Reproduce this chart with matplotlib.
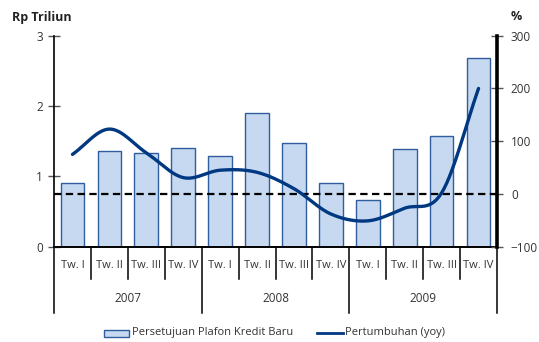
import numpy as np
import matplotlib
matplotlib.use("Agg")
import matplotlib.pyplot as plt
from matplotlib.patches import Rectangle
from matplotlib.lines import Line2D
import matplotlib.transforms as mtransforms

# --- data -------------------------------------------------------------
quarters = ["Tw. I", "Tw. II", "Tw. III", "Tw. IV"] * 3
years = ["2007", "2008", "2009"]
plafon = [0.90, 1.36, 1.33, 1.41, 1.29, 1.90, 1.48, 0.90, 0.66, 1.39, 1.57, 2.68]
growth = [75, 123, 78, 31, 45, 41, 10, -38, -51, -27, 2, 200]
left_ticks = [0, 1, 2, 3]
right_ticks = [-100, 0, 100, 200, 300]

BAR_FILL = "#c6d9f1"
BAR_EDGE = "#2f5d9e"
LINE_C = "#003882"
TXT = "#333333"

plt.rcParams["font.family"] = ["Open Sans", "DejaVu Sans"]

W, H = 539, 342
fig = plt.figure(figsize=(W / 100, H / 100), dpi=100)
x0, x1, ytop, ybot = 54, 497, 35.7, 246.7
ax = fig.add_axes([x0 / W, 1 - ybot / H, (x1 - x0) / W, (ybot - ytop) / H])

n = len(plafon)
x = np.arange(n)
ax.bar(x, plafon, width=0.64, color=BAR_FILL, edgecolor=BAR_EDGE, linewidth=1.0, zorder=2)
ax.set_xlim(-0.5, n - 0.5)
ax.set_ylim(0, 3)
ax.set_yticks(left_ticks)
ax.set_xticks([])

for s in ["top", "right"]:
    ax.spines[s].set_visible(False)
ax.spines["left"].set_linewidth(1.2)
ax.spines["bottom"].set_linewidth(1.4)
ax.tick_params(axis="y", direction="inout", length=8, width=1.0, color="#555555",
               labelsize=8.5, labelcolor=TXT, pad=4)

# secondary axis for the growth line
ax2 = ax.twinx()
ax2.set_ylim(-100, 300)
ax2.set_yticks(right_ticks)
ax2.set_xlim(-0.5, n - 0.5)
for s in ["top", "left", "bottom"]:
    ax2.spines[s].set_visible(False)
ax2.spines["right"].set_linewidth(2.6)
ax2.tick_params(axis="y", direction="inout", length=8, width=1.0, color="#555555",
                labelsize=8.5, labelcolor=TXT, pad=6)

ax2.axhline(0, color="black", linewidth=1.6, dashes=(3.3, 2.0), zorder=3)


def catmull_rom(px, py, steps=30):
    px = np.asarray(px, float)
    py = np.asarray(py, float)
    P = np.column_stack([px, py])
    P = np.vstack([P[0] - (P[1] - P[0]), P, P[-1] + (P[-1] - P[-2])])
    out = []
    for i in range(1, len(P) - 2):
        p0, p1, p2, p3 = P[i - 1], P[i], P[i + 1], P[i + 2]
        t = np.linspace(0, 1, steps, endpoint=False)[:, None]
        seg = 0.5 * ((2 * p1) + (-p0 + p2) * t + (2 * p0 - 5 * p1 + 4 * p2 - p3) * t ** 2
                     + (-p0 + 3 * p1 - 3 * p2 + p3) * t ** 3)
        out.append(seg)
    out.append(P[-2][None, :])
    out = np.vstack(out)
    return out[:, 0], out[:, 1]


sx, sy = catmull_rom(x, growth)
ax2.plot(sx, sy, color=LINE_C, linewidth=2.4, solid_capstyle="round", zorder=4)

# category table below the axis
trans = mtransforms.blended_transform_factory(ax.transData, ax.transAxes)
ah = ybot - ytop


def ay(py):
    return (ybot - py) / ah


for k in range(n + 1):
    xb = k - 0.5
    bottom = 313 if k % 4 == 0 else 279
    ax.plot([xb, xb], [0, ay(bottom)], transform=trans, color="black",
            linewidth=1.1, clip_on=False, zorder=1)

for i, q in enumerate(quarters):
    ax.text(i, ay(265.5), q, transform=trans, ha="center", va="center",
            fontsize=8, color=TXT)
for j, yr in enumerate(years):
    ax.text(4 * j + 1.5, ay(299), yr, transform=trans, ha="center", va="center",
            fontsize=8.5, color=TXT)

# axis titles
fig.text(12 / W, 1 - 17 / H, "Rp Triliun", ha="left", va="center",
         fontsize=9, fontweight="bold", color="#222222")
fig.text(516 / W, 1 - 17 / H, "%", ha="center", va="center",
         fontsize=9, fontweight="bold", color="#222222")

# legend
ly = 1 - 333 / H
fig.add_artist(Rectangle((104 / W, ly - 3.5 / H), 25 / W, 7 / H, transform=fig.transFigure,
                         facecolor=BAR_FILL, edgecolor=BAR_EDGE, linewidth=1.0))
fig.text(132 / W, ly, "Persetujuan Plafon Kredit Baru", ha="left", va="center",
         fontsize=8, color=TXT)
fig.add_artist(Line2D([317 / W, 343 / W], [ly, ly], transform=fig.transFigure,
                      color=LINE_C, linewidth=2.0))
fig.text(345 / W, ly, "Pertumbuhan (yoy)", ha="left", va="center",
         fontsize=8, color=TXT)

fig.savefig("out.png", dpi=100)
